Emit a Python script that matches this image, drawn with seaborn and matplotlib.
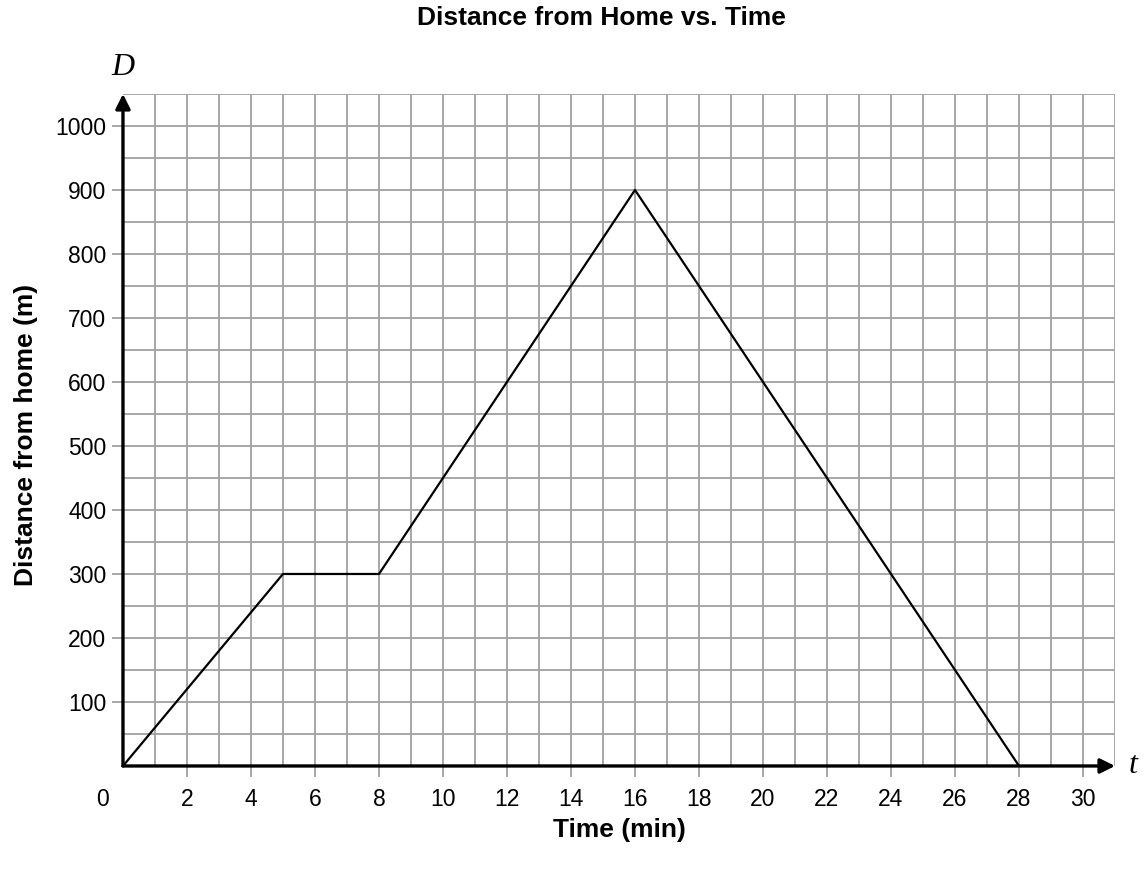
import matplotlib
matplotlib.use("Agg")
import matplotlib.pyplot as plt
import seaborn as sns
import pandas as pd

# data
time_min = [0, 5, 8, 16, 28]
distance_m = [0, 300, 300, 900, 0]
x_ticks = list(range(2, 31, 2))
y_ticks = list(range(100, 1001, 100))

sns.set_style("white")
plt.rcParams['font.family'] = ['Liberation Sans', 'DejaVu Sans']
plt.rcParams['text.color'] = 'black'
plt.rcParams['xtick.labelcolor'] = 'black'
plt.rcParams['ytick.labelcolor'] = 'black'

df = pd.DataFrame({"t": time_min, "D": distance_m})

fig = plt.figure(figsize=(11.45, 8.75), dpi=100)
ax = fig.add_axes([0.1074, 0.1246, 0.8664, 0.768])

ax.set_xlim(0, 31)
ax.set_ylim(0, 1050)

# grid every minute / every 50 m
grid_c = "#a0a0a0"
for x in range(1, 32):
    ax.axvline(x, color=grid_c, lw=1.3, zorder=1)
for y in range(50, 1051, 50):
    ax.axhline(y, color=grid_c, lw=1.3, zorder=1)

sns.lineplot(data=df, x="t", y="D", color="black", lw=1.6, ax=ax, zorder=3,
             clip_on=False)

for s in ax.spines.values():
    s.set_visible(False)

# axes with arrows
arrow = dict(arrowstyle="-|>", lw=2.4, color="black", mutation_scale=22,
             shrinkA=0, shrinkB=0)
ax.annotate("", xy=(31, 0), xytext=(0, 0), arrowprops=arrow,
            annotation_clip=False, zorder=4)
ax.annotate("", xy=(0, 1050), xytext=(0, 0), arrowprops=arrow,
            annotation_clip=False, zorder=4)

ax.set_xticks(x_ticks)
ax.set_yticks(y_ticks)
ax.tick_params(axis="both", which="both", length=8, width=1.3, color=grid_c,
               labelsize=16.5, direction="out", bottom=True, left=True)
ax.tick_params(axis="x", pad=8)
ax.tick_params(axis="y", pad=4)
ax.set_xlabel("")
ax.set_ylabel("")

ax.annotate("0", xy=(0, 0), xytext=(-15, -16), textcoords="offset points",
            ha="center", va="top", fontsize=16.5)

ax.text(0, 1068, "D", fontsize=23, family="Liberation Serif", style="italic",
        ha="center", va="bottom")
ax.annotate("t", xy=(31, 0), xytext=(13, 0), textcoords="offset points",
            fontsize=23, family="Liberation Serif", style="italic",
            ha="center", va="center", annotation_clip=False)

fig.text(0.5406, 0.051, "Time (min)", ha="center", va="center",
         fontsize=19, fontweight="bold")
fig.text(0.0227, 0.503, "Distance from home (m)", ha="center", va="center",
         rotation=90, fontsize=19, fontweight="bold")
fig.text(0.525, 0.979, "Distance from Home vs. Time", ha="center",
         va="center", fontsize=19, fontweight="bold")

fig.savefig("out.png", dpi=100)
